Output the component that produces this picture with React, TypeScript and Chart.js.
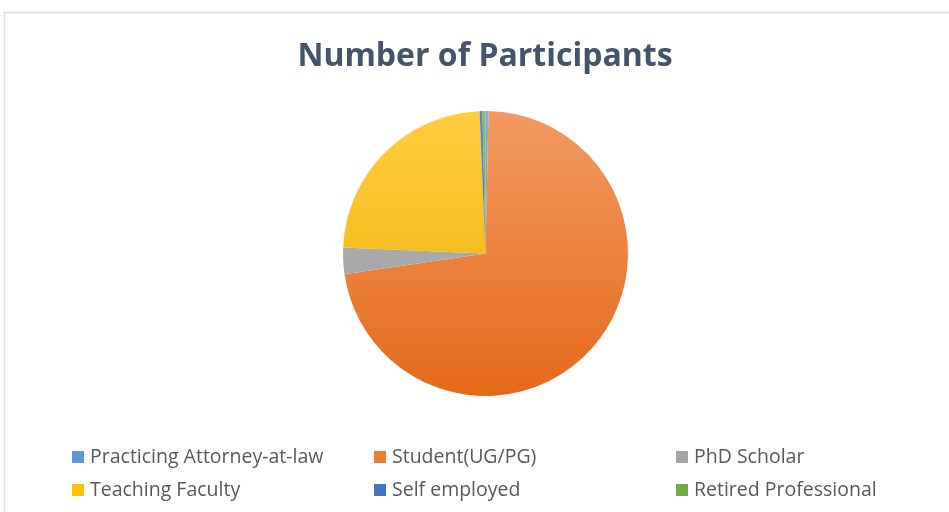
import React, { useEffect, useRef } from "react";
import { Chart, registerables } from "chart.js";
Chart.register(...registerables);

const categories = [
  "Practicing Attorney-at-law",
  "Student(UG/PG)",
  "PhD Scholar",
  "Teaching Faculty",
  "Self employed",
  "Retired Professional",
];
const participants = [1, 217, 9, 71, 1, 1];
const topColors = ["#7FB0DE", "#F29A62", "#BDBDBD", "#FFCD40", "#5F88D0", "#86BE60"];
const bottomColors = ["#4A8CCB", "#E56A1A", "#979797", "#EBAD00", "#3A66B8", "#62A03C"];
const baseColors = ["#5B9BD5", "#ED7D31", "#A5A5A5", "#FFC000", "#4472C4", "#70AD47"];
const chartTitle = "Number of Participants";

const overlay = {
  id: "overlay",
  afterDraw(chart: any) {
    const c = chart.ctx;
    c.save();
    // frame
    c.strokeStyle = "#D9DDE3";
    c.lineWidth = 1.5;
    c.strokeRect(4.5, 12.5, 1000, 600);
    // title
    c.fillStyle = "#44546A";
    c.font = "bold 32px 'Open Sans'";
    c.textAlign = "center";
    c.textBaseline = "middle";
    c.fillText(chartTitle, 485, 57);
    // legend
    const cols = [72, 374, 676];
    const rows = [457, 490];
    c.font = "19.5px 'Open Sans'";
    c.textAlign = "left";
    chart.data.labels.forEach((lab: string, i: number) => {
      const x = cols[i % 3];
      const y = rows[Math.floor(i / 3)];
      c.fillStyle = baseColors[i];
      c.fillRect(x, y - 6, 12, 12);
      c.fillStyle = "#595959";
      c.fillText(lab, x + 18, y);
    });
    c.restore();
  },
};

export default function App() {
  const ref = useRef<HTMLCanvasElement>(null);
  useEffect(() => {
    document.body.style.margin = "0";
    const chart = new Chart(ref.current!, {
      type: "pie",
      data: {
        labels: categories,
        datasets: [
          {
            data: participants,
            borderWidth: 0,
            backgroundColor: (ctx: any) => {
              const ch = ctx.chart;
              const a = ch.chartArea;
              if (!a) return baseColors[ctx.dataIndex];
              const g = ch.ctx.createLinearGradient(0, a.top, 0, a.bottom);
              g.addColorStop(0, topColors[ctx.dataIndex]);
              g.addColorStop(1, bottomColors[ctx.dataIndex]);
              return g;
            },
          },
        ],
      },
      options: {
        animation: false,
        responsive: false,
        layout: { padding: { top: 111, bottom: 116, left: 343, right: 321 } },
        plugins: {
          legend: { display: false },
          title: { display: false },
          tooltip: { enabled: false },
        },
      },
      plugins: [overlay],
    });
    return () => chart.destroy();
  }, []);
  return <canvas ref={ref} width={949} height={512} style={{ display: "block" }} />;
}
